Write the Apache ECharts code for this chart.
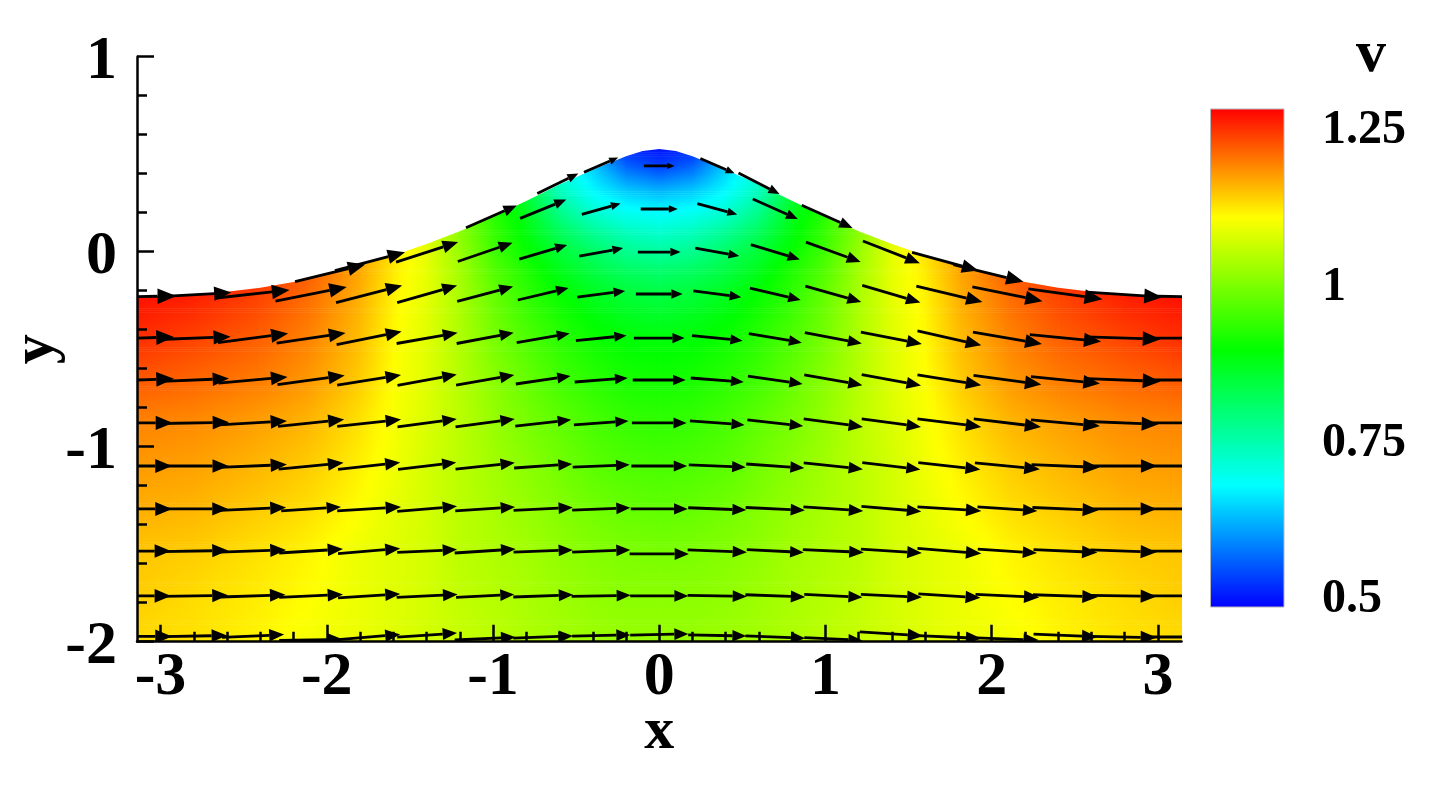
<!DOCTYPE html>
<html>
<head>
<meta charset="utf-8">
<style>html,body{margin:0;padding:0;background:#fff}#c{width:1435px;height:796px}</style>
<script src="https://cdn.jsdelivr.net/npm/echarts@6/dist/echarts.min.js"></script>
</head>
<body>
<div id="c"></div>
<script>
const xTickValues = [-3,-2,-1,0,1,2,3];
const xMinorTickValues = [-2.8,-2.6,-2.4,-2.2,-1.8,-1.6,-1.4,-1.2,-0.8,-0.6,-0.4,-0.2,0.2,0.4,0.6,0.8,1.2,1.4,1.6,1.8,2.2,2.4,2.6,2.8];
const colorbarTicks = [0.5,0.75,1,1.25];
const colorbarMin = 0.484, colorbarMax = 1.28;
const colormapValues = [0.484,0.679,0.895,1.106,1.28];
const colormapColors = [[0,0,255],[0,255,255],[0,255,0],[255,255,0],[255,0,0]];

const surfaceX = [-3.1416,-3,-2.8,-2.6,-2.4,-2.2,-2,-1.8,-1.6,-1.4,-1.2,-1,-0.8,-0.6,-0.4,-0.2,-0.1,0,0.1,0.2,0.4,0.6,0.8,1,1.2,1.4,1.6,1.8,2,2.2,2.4,2.6,2.8,3,3.1416];
const surfaceY = [-0.228,-0.226,-0.22,-0.205,-0.185,-0.155,-0.115,-0.07,-0.02,0.04,0.105,0.18,0.26,0.345,0.42,0.49,0.516,0.527,0.516,0.49,0.42,0.345,0.26,0.18,0.105,0.04,-0.02,-0.07,-0.115,-0.155,-0.185,-0.205,-0.22,-0.226,-0.228];

const fieldX = [-3.1416,-2.8,-2.4,-2.1,-1.8,-1.6,-1.4,-1.2,-1,-0.8,-0.6,-0.4,-0.2,0,0.2,0.4,0.6,0.8,1,1.2,1.4,1.6,1.8,2.1,2.4,2.8,3.1416];
const fieldY = [0.55,0.44,0.3,0.2,0.1,0,-0.1,-0.22,-0.44,-0.66,-0.88,-1.1,-1.33,-1.55,-1.77,-2];
const fieldV = [
[1.27,1.27,1.25,1.22,1.17,1.125,1.08,1.0,0.93,0.80,0.68,0.57,0.50,0.49,0.50,0.57,0.68,0.80,0.93,1.0,1.08,1.125,1.17,1.22,1.25,1.27,1.27],
[1.27,1.27,1.25,1.22,1.17,1.125,1.08,1.0,0.93,0.82,0.70,0.64,0.56,0.53,0.56,0.64,0.70,0.82,0.93,1.0,1.08,1.125,1.17,1.22,1.25,1.27,1.27],
[1.27,1.27,1.25,1.22,1.17,1.125,1.08,1.0,0.92,0.85,0.74,0.68,0.645,0.63,0.645,0.68,0.74,0.85,0.92,1.0,1.08,1.125,1.17,1.22,1.25,1.27,1.27],
[1.27,1.27,1.25,1.22,1.17,1.125,1.08,1.0,0.93,0.87,0.78,0.72,0.69,0.68,0.69,0.72,0.78,0.87,0.93,1.0,1.08,1.125,1.17,1.22,1.25,1.27,1.27],
[1.27,1.27,1.25,1.22,1.17,1.125,1.08,1.01,0.94,0.885,0.82,0.77,0.735,0.72,0.735,0.77,0.82,0.885,0.94,1.01,1.08,1.125,1.17,1.22,1.25,1.27,1.27],
[1.27,1.27,1.25,1.22,1.17,1.125,1.085,1.02,0.95,0.90,0.85,0.81,0.775,0.76,0.775,0.81,0.85,0.90,0.95,1.02,1.085,1.125,1.17,1.22,1.25,1.27,1.27],
[1.27,1.27,1.25,1.215,1.165,1.12,1.085,1.03,0.965,0.92,0.875,0.84,0.815,0.805,0.815,0.84,0.875,0.92,0.965,1.03,1.085,1.12,1.165,1.215,1.25,1.27,1.27],
[1.27,1.26,1.235,1.205,1.16,1.115,1.085,1.035,0.98,0.935,0.90,0.87,0.85,0.84,0.85,0.87,0.90,0.935,0.98,1.035,1.085,1.115,1.16,1.205,1.235,1.26,1.27],
[1.25,1.235,1.215,1.19,1.15,1.11,1.08,1.04,0.995,0.96,0.93,0.905,0.89,0.885,0.89,0.905,0.93,0.96,0.995,1.04,1.08,1.11,1.15,1.19,1.215,1.235,1.25],
[1.22,1.21,1.195,1.175,1.14,1.105,1.08,1.045,1.01,0.98,0.95,0.93,0.915,0.91,0.915,0.93,0.95,0.98,1.01,1.045,1.08,1.105,1.14,1.175,1.195,1.21,1.22],
[1.19,1.185,1.17,1.155,1.125,1.10,1.075,1.05,1.02,0.995,0.975,0.955,0.94,0.935,0.94,0.955,0.975,0.995,1.02,1.05,1.075,1.10,1.125,1.155,1.17,1.185,1.19],
[1.175,1.17,1.155,1.14,1.115,1.095,1.07,1.05,1.03,1.01,0.99,0.97,0.96,0.955,0.96,0.97,0.99,1.01,1.03,1.05,1.07,1.095,1.115,1.14,1.155,1.17,1.175],
[1.16,1.155,1.14,1.127,1.105,1.085,1.07,1.05,1.035,1.02,1.005,0.99,0.98,0.975,0.98,0.99,1.005,1.02,1.035,1.05,1.07,1.085,1.105,1.127,1.14,1.155,1.16],
[1.145,1.14,1.125,1.112,1.09,1.08,1.07,1.05,1.04,1.03,1.015,1.005,0.998,0.995,0.998,1.005,1.015,1.03,1.04,1.05,1.07,1.08,1.09,1.112,1.125,1.14,1.145],
[1.14,1.13,1.118,1.106,1.09,1.08,1.07,1.055,1.045,1.035,1.025,1.015,1.01,1.01,1.01,1.015,1.025,1.035,1.045,1.055,1.07,1.08,1.09,1.106,1.118,1.13,1.14],
[1.13,1.125,1.112,1.098,1.09,1.08,1.07,1.06,1.05,1.04,1.03,1.025,1.02,1.02,1.02,1.025,1.03,1.04,1.05,1.06,1.07,1.08,1.09,1.098,1.112,1.125,1.13]
];

const arrowColumnX = [-3.1416,-2.7925,-2.4435,-2.0944,-1.7453,-1.3963,-1.0472,-0.6981,-0.3491,0,0.3491,0.6981,1.0472,1.3963,1.7453,2.0944,2.4435,2.7925,3.1416];
const arrowRowY = [0.219,-0.002,-0.217,-0.443,-0.658,-0.878,-1.099,-1.319,-1.535,-1.765];
const _ = null;
const arrowU = [
[_,_,_,_,_,_,_,0.81,0.68,0.65,0.70,0.79,_,_,_,_,_,_,_],
[_,_,_,_,_,1.09,0.96,0.84,0.77,0.75,0.77,0.86,0.96,1.00,_,_,_,_,_],
[_,_,1.28,1.25,1.16,1.05,0.98,0.89,0.84,0.82,0.84,0.89,0.98,1.02,1.16,1.23,1.30,_,_],
[1.30,1.25,1.23,1.21,1.14,1.07,1.00,0.93,0.89,0.89,0.89,0.93,1.00,1.07,1.12,1.21,1.25,1.30,1.30],
[1.30,1.19,1.21,1.18,1.12,1.04,1.02,0.96,0.93,0.93,0.93,0.96,1.02,1.04,1.12,1.19,1.21,1.30,1.30],
[1.26,1.19,1.19,1.16,1.12,1.04,1.04,0.98,0.96,0.96,0.96,0.98,1.04,1.04,1.12,1.18,1.21,1.23,1.26],
[1.23,1.18,1.19,1.14,1.09,1.02,1.04,1.02,1.00,0.98,1.00,1.02,1.04,1.02,1.09,1.14,1.19,1.18,1.23],
[1.23,1.16,1.16,1.05,1.12,1.05,1.05,1.04,1.02,1.00,1.02,1.04,1.05,1.05,1.12,1.05,1.16,1.16,1.23],
[1.19,1.16,1.16,1.12,1.09,1.05,1.07,1.04,1.02,_,1.04,1.00,1.07,1.07,1.12,1.04,1.12,1.16,1.16],
[1.19,1.16,1.14,1.12,1.09,1.07,1.02,1.05,1.04,1.02,1.04,1.05,1.02,1.07,1.09,1.12,1.14,1.16,1.19]
];
const arrowV = [
[_,_,_,_,_,_,_,0.33,0.19,0,-0.19,-0.35,_,_,_,_,_,_,_],
[_,_,_,_,_,0.35,0.33,0.25,0.14,0,-0.14,-0.26,-0.35,-0.39,_,_,_,_,_],
[_,_,0.14,0.25,0.30,0.30,0.26,0.21,0.11,0,-0.11,-0.21,-0.28,-0.30,-0.28,-0.25,-0.18,_,_],
[0.04,0.05,0.16,0.18,0.23,0.19,0.19,0.16,0.09,0,-0.09,-0.16,-0.19,-0.21,-0.25,-0.21,-0.12,-0.04,0],
[0.04,0.05,0.11,0.16,0.18,0.19,0.18,0.14,0.07,0,-0.07,-0.14,-0.18,-0.19,-0.18,-0.16,-0.12,-0.05,0],
[0,0.02,0.07,0.12,0.12,0.14,0.14,0.11,0.07,0,-0.07,-0.11,-0.14,-0.14,-0.14,-0.14,-0.11,-0.05,0],
[0,0,0.05,0.11,0.12,0.12,0.11,0.07,0.04,0,-0.04,-0.07,-0.11,-0.12,-0.12,-0.11,-0.05,0,0],
[0,0,0.05,0.07,0.07,0.09,0.07,0.05,0.04,0,-0.04,-0.05,-0.07,-0.09,-0.07,-0.07,-0.05,0,0],
[0,0.02,0.04,0.07,0.09,0.05,0.07,0.04,0.04,_,-0.04,-0.05,-0.05,-0.07,-0.09,-0.07,-0.05,-0.04,0],
[0,0.02,0.04,0.05,0.07,0.05,0.05,0.04,0.02,0,-0.02,-0.04,-0.05,-0.05,-0.07,-0.05,-0.04,-0.02,0]
];
// Arrows on the surface, the centre line and along the bottom edge, which sit off the regular rows
const edgeArrowX = [-3.14,-2.79,-1.98,-1.74,-1.01,-0.61,-0.35,0,0.35,0.60,1.01,1.72,1.98,2.80,3.14, 0, -3.1416,-2.7925,-2.4435,-2.0944,-1.7453,-1.3963,-1.0472,-0.6981,-0.3491,0,0.3491,0.6981,1.0472,1.3963,1.7453,2.0944,2.4435,2.7925,3.1416];
const edgeArrowY = [-0.23,-0.22,-0.11,-0.05,0.18,0.35,0.445,0.44,0.44,0.35,0.18,-0.05,-0.11,-0.22,-0.23, -1.55, -1.973,-1.971,-1.971,-1.991,-1.976,-1.966,-1.984,-1.976,-1.968,-1.963,-1.968,-1.976,-1.986,-1.96,-1.976,-1.986,-1.968,-1.976,-1.976];
const edgeArrowU = [1.37,1.26,1.23,1.23,0.89,0.72,0.60,0.54,0.60,0.72,0.89,1.16,1.23,1.32,1.30, 1.04, 1.23,1.12,1.09,1.12,1.09,1.05,1.07,1.05,1.02,1.02,1.02,1.05,1.02,1.11,1.12,1.09,1.12,1.16,1.23];
const edgeArrowV = [0.02,0.07,0.30,0.32,0.39,0.35,0.26,0,-0.26,-0.37,-0.40,-0.32,-0.30,-0.09,-0.02, 0, 0,0.02,0.05,0.02,0.09,0.07,0.05,0.04,0.02,0.02,-0.02,-0.04,-0.05,-0.07,-0.05,-0.04,-0.05,-0.02,0];

const FONT = '"Liberation Serif", serif';
const ARROW_SCALE = 57;

function colorAt(v){
  const m = colormapValues, c = colormapColors;
  if (v <= m[0]) return 'rgb(' + c[0].join(',') + ')';
  for (let i = 0; i < m.length - 1; i++) {
    if (v <= m[i+1]) {
      const t = (v - m[i]) / (m[i+1] - m[i]);
      return 'rgb(' + [0,1,2].map(k => Math.round(c[i][k] + (c[i+1][k] - c[i][k]) * t)).join(',') + ')';
    }
  }
  return 'rgb(' + c[c.length-1].join(',') + ')';
}

const cellData = [];
for (let j = 0; j < fieldY.length - 1; j++) for (let i = 0; i < fieldX.length - 1; i++) cellData.push([fieldX[i], fieldY[j], i, j]);

function renderCell(params, api){
  const i = api.value(2), j = api.value(3);
  const a = api.coord([fieldX[i], fieldY[j]]), b = api.coord([fieldX[i+1], fieldY[j+1]]);
  const n = Math.max(1, Math.ceil((b[1] - a[1]) / 2));
  const h = (b[1] - a[1]) / n;
  const children = [];
  for (let k = 0; k < n; k++) {
    const t = (k + 0.5) / n;
    const vL = fieldV[j][i] + (fieldV[j+1][i] - fieldV[j][i]) * t;
    const vR = fieldV[j][i+1] + (fieldV[j+1][i+1] - fieldV[j][i+1]) * t;
    const stops = [];
    for (let s = 0; s <= 4; s++) stops.push({offset: s / 4, color: colorAt(vL + (vR - vL) * s / 4)});
    children.push({
      type: 'rect',
      shape: {x: a[0], y: a[1] + k * h, width: b[0] - a[0] + 0.6, height: h + 0.6},
      style: {fill: {type: 'linear', x: 0, y: 0, x2: 1, y2: 0, colorStops: stops}, stroke: null}
    });
  }
  return {type: 'group', silent: true, children};
}

function renderMask(params, api){
  const pts = surfaceX.map((x, i) => api.coord([x, surfaceY[i]]));
  pts[pts.length - 1][0] += 4;
  pts.push(api.coord([3.2, 1]));
  pts.push(api.coord([-3.1416, 1]));
  return {type: 'polygon', silent: true, shape: {points: pts}, style: {fill: '#fff', stroke: null}};
}

const arrowData = [];
arrowRowY.forEach((y, r) => arrowColumnX.forEach((x, c) => {
  if (arrowU[r][c] !== null) arrowData.push([x, y, arrowU[r][c], arrowV[r][c]]);
}));
edgeArrowX.forEach((x, i) => arrowData.push([x, edgeArrowY[i], edgeArrowU[i], edgeArrowV[i]]));

function renderArrow(params, api){
  const c = api.coord([api.value(0), api.value(1)]);
  const dx = api.value(2) * ARROW_SCALE, dy = -api.value(3) * ARROW_SCALE;
  const L = Math.hypot(dx, dy), ux = dx / L, uy = dy / L;
  const tail = [c[0] - dx / 2, c[1] - dy / 2], tip = [c[0] + dx / 2, c[1] + dy / 2];
  const hl = 0.24 * L, hw = 0.1 * L;
  const base = [tip[0] - ux * hl, tip[1] - uy * hl];
  return {type: 'group', silent: true, children: [
    {type: 'line', shape: {x1: tail[0], y1: tail[1], x2: base[0], y2: base[1]}, style: {stroke: '#000', lineWidth: 2.8}},
    {type: 'polygon', shape: {points: [tip, [base[0] - uy * hw, base[1] + ux * hw], [base[0] + uy * hw, base[1] - ux * hw]]}, style: {fill: '#000', stroke: null}}
  ]};
}

function renderBar(params, api){
  const a = api.coord([0, colorbarMax]), b = api.coord([1, colorbarMin]);
  const stops = colormapValues.map((v, i) => ({
    offset: (colorbarMax - v) / (colorbarMax - colorbarMin),
    color: 'rgb(' + colormapColors[i].join(',') + ')'
  })).reverse();
  return {type: 'rect', silent: true,
    shape: {x: a[0], y: a[1], width: b[0] - a[0], height: b[1] - a[1]},
    style: {fill: {type: 'linear', x: 0, y: 0, x2: 0, y2: 1, colorStops: stops}, stroke: '#b5b5b5', lineWidth: 1}};
}

const axisFont = {fontFamily: FONT, fontWeight: 'bold', fontSize: 62, color: '#000'};
const lineStyle = {color: '#000', width: 2.5};

const chart = echarts.init(document.getElementById('c'), null, {renderer: 'canvas'});
chart.setOption({
  animation: false,
  backgroundColor: '#fff',
  title: {text: 'v', left: 1351, top: 20, textStyle: {fontFamily: FONT, fontWeight: 'bold', fontSize: 60, color: '#000'}},
  grid: [
    {left: 137, top: 56.7, width: 1044.5, height: 585, containLabel: false, outerBoundsMode: 'none'},
    {left: 1210.5, top: 109, width: 73.5, height: 498, containLabel: false, outerBoundsMode: 'none'}
  ],
  xAxis: [
    {type: 'value', gridIndex: 0, min: -3.1416, max: 3.1416, z: 10, position: 'bottom',
     name: 'x', nameLocation: 'middle', nameGap: 61, nameMoveOverlap: false, nameTextStyle: {...axisFont, fontSize: 60},
     axisLine: {show: true, onZero: false, lineStyle},
     axisTick: {show: true, inside: true, length: 17, lineStyle, customValues: xTickValues},
     axisLabel: {show: true, margin: 5, customValues: xTickValues, ...axisFont},
     splitLine: {show: false}},
    {type: 'value', gridIndex: 0, min: -3.1416, max: 3.1416, z: 10, position: 'bottom',
     axisLine: {show: false, onZero: false},
     axisTick: {show: true, inside: true, length: 10, lineStyle, customValues: xMinorTickValues},
     axisLabel: {show: false},
     splitLine: {show: false}},
    {type: 'value', gridIndex: 1, min: 0, max: 1, show: false}
  ],
  yAxis: [
    {type: 'value', gridIndex: 0, min: -2, max: 1, interval: 1, z: 10,
     name: 'y', nameLocation: 'middle', nameGap: 71, nameMoveOverlap: false, nameRotate: 90, nameTextStyle: {...axisFont, fontSize: 60},
     axisLine: {show: true, onZero: false, lineStyle},
     axisTick: {show: true, inside: true, length: 17, lineStyle},
     minorTick: {show: true, splitNumber: 5, length: 10, lineStyle},
     axisLabel: {show: true, margin: 20, verticalAlign: 'top', lineHeight: 10, ...axisFont},
     splitLine: {show: false}, minorSplitLine: {show: false}},
    {type: 'value', gridIndex: 1, min: colorbarMin, max: colorbarMax, position: 'right',
     axisLine: {show: false}, axisTick: {show: false}, splitLine: {show: false},
     axisLabel: {show: true, margin: 38, verticalAlign: 'top', lineHeight: 6, customValues: colorbarTicks, ...axisFont, fontSize: 48}}
  ],
  series: [
    {type: 'custom', name: 'v', xAxisIndex: 0, yAxisIndex: 0, z: 2, clip: true, silent: true,
     coordinateSystem: 'cartesian2d', renderItem: renderCell, data: cellData, encode: {x: 0, y: 1}},
    {type: 'custom', name: 'surface', xAxisIndex: 0, yAxisIndex: 0, z: 3, clip: false, silent: true,
     coordinateSystem: 'cartesian2d', renderItem: renderMask, data: [[0, 0]], encode: {x: 0, y: 1}},
    {type: 'custom', name: 'velocity', xAxisIndex: 0, yAxisIndex: 0, z: 4, clip: true, silent: true,
     coordinateSystem: 'cartesian2d', renderItem: renderArrow, data: arrowData, encode: {x: 0, y: 1}},
    {type: 'custom', name: 'colorbar', xAxisIndex: 2, yAxisIndex: 1, z: 2, silent: true,
     coordinateSystem: 'cartesian2d', renderItem: renderBar, data: [[0, colorbarMin]], encode: {x: 0, y: 1}}
  ]
});
</script>
</body>
</html>
